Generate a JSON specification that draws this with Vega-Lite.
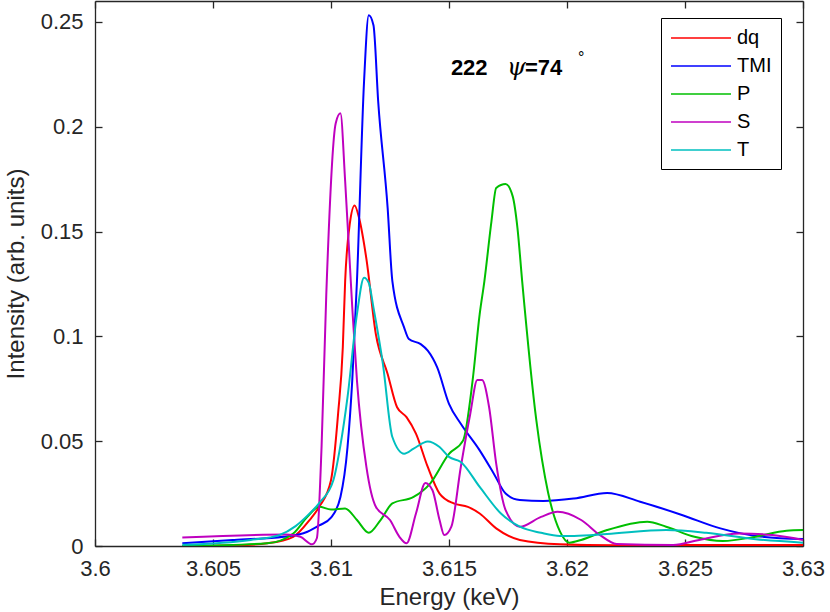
{
  "$schema": "https://vega.github.io/schema/vega-lite/v6.json",
  "width": 708,
  "height": 545,
  "autosize": {"type": "none"},
  "padding": {"left": 95, "top": 1, "right": 27, "bottom": 66},
  "background": "white",
  "config": {
    "view": {"stroke": null},
    "font": "Liberation Sans",
    "axis": {
      "grid": false,
      "domainColor": "#262626",
      "domainWidth": 1.3,
      "tickColor": "#262626",
      "tickWidth": 1.3,
      "tickSize": -7,
      "labelColor": "#262626",
      "labelFontSize": 22,
      "labelFont": "Liberation Sans",
      "titleColor": "#262626",
      "titleFontSize": 24,
      "titleFontWeight": "normal",
      "titleFont": "Liberation Sans"
    }
  },
  "datasets": {
    "spectra": [
      {"s": "dq", "e": 3.6037, "v": 0},
      {"s": "dq", "e": 3.606, "v": 0.0003},
      {"s": "dq", "e": 3.6073, "v": 0.0013},
      {"s": "dq", "e": 3.6084, "v": 0.0044},
      {"s": "dq", "e": 3.6091, "v": 0.0125},
      {"s": "dq", "e": 3.6095, "v": 0.0187},
      {"s": "dq", "e": 3.61, "v": 0.0314},
      {"s": "dq", "e": 3.6103, "v": 0.063},
      {"s": "dq", "e": 3.6105, "v": 0.0947},
      {"s": "dq", "e": 3.6106, "v": 0.1264},
      {"s": "dq", "e": 3.6108, "v": 0.154},
      {"s": "dq", "e": 3.611, "v": 0.1625},
      {"s": "dq", "e": 3.6112, "v": 0.156},
      {"s": "dq", "e": 3.6115, "v": 0.137},
      {"s": "dq", "e": 3.6119, "v": 0.1011},
      {"s": "dq", "e": 3.6124, "v": 0.0821},
      {"s": "dq", "e": 3.6128, "v": 0.0662},
      {"s": "dq", "e": 3.6132, "v": 0.0615},
      {"s": "dq", "e": 3.6136, "v": 0.0536},
      {"s": "dq", "e": 3.6141, "v": 0.0377},
      {"s": "dq", "e": 3.6146, "v": 0.025},
      {"s": "dq", "e": 3.6152, "v": 0.0203},
      {"s": "dq", "e": 3.6158, "v": 0.0187},
      {"s": "dq", "e": 3.6163, "v": 0.0155},
      {"s": "dq", "e": 3.617, "v": 0.0084},
      {"s": "dq", "e": 3.618, "v": 0.0029},
      {"s": "dq", "e": 3.6197, "v": 0.0008},
      {"s": "dq", "e": 3.622, "v": 0.0003},
      {"s": "dq", "e": 3.625, "v": 0.0005},
      {"s": "dq", "e": 3.63, "v": 0.0005},

      {"s": "TMI", "e": 3.6037, "v": 0.0013},
      {"s": "TMI", "e": 3.6059, "v": 0.0029},
      {"s": "TMI", "e": 3.608, "v": 0.0044},
      {"s": "TMI", "e": 3.609, "v": 0.0068},
      {"s": "TMI", "e": 3.6095, "v": 0.0098},
      {"s": "TMI", "e": 3.61, "v": 0.0135},
      {"s": "TMI", "e": 3.6104, "v": 0.0234},
      {"s": "TMI", "e": 3.6107, "v": 0.0472},
      {"s": "TMI", "e": 3.6109, "v": 0.0789},
      {"s": "TMI", "e": 3.6111, "v": 0.1264},
      {"s": "TMI", "e": 3.6114, "v": 0.2215},
      {"s": "TMI", "e": 3.6116, "v": 0.2532},
      {"s": "TMI", "e": 3.6118, "v": 0.2484},
      {"s": "TMI", "e": 3.612, "v": 0.212},
      {"s": "TMI", "e": 3.6124, "v": 0.1613},
      {"s": "TMI", "e": 3.6126, "v": 0.1264},
      {"s": "TMI", "e": 3.6131, "v": 0.1042},
      {"s": "TMI", "e": 3.6133, "v": 0.0987},
      {"s": "TMI", "e": 3.6138, "v": 0.0963},
      {"s": "TMI", "e": 3.6141, "v": 0.0932},
      {"s": "TMI", "e": 3.6145, "v": 0.0852},
      {"s": "TMI", "e": 3.615, "v": 0.0678},
      {"s": "TMI", "e": 3.6155, "v": 0.0583},
      {"s": "TMI", "e": 3.6163, "v": 0.0456},
      {"s": "TMI", "e": 3.6169, "v": 0.0345},
      {"s": "TMI", "e": 3.6174, "v": 0.025},
      {"s": "TMI", "e": 3.618, "v": 0.0219},
      {"s": "TMI", "e": 3.619, "v": 0.0215},
      {"s": "TMI", "e": 3.6203, "v": 0.0227},
      {"s": "TMI", "e": 3.6217, "v": 0.0253},
      {"s": "TMI", "e": 3.6231, "v": 0.0211},
      {"s": "TMI", "e": 3.6249, "v": 0.0147},
      {"s": "TMI", "e": 3.6265, "v": 0.0084},
      {"s": "TMI", "e": 3.628, "v": 0.0048},
      {"s": "TMI", "e": 3.63, "v": 0.0033},

      {"s": "P", "e": 3.6037, "v": 0},
      {"s": "P", "e": 3.6073, "v": 0.0013},
      {"s": "P", "e": 3.6084, "v": 0.006},
      {"s": "P", "e": 3.609, "v": 0.0139},
      {"s": "P", "e": 3.6095, "v": 0.0187},
      {"s": "P", "e": 3.61, "v": 0.0174},
      {"s": "P", "e": 3.6106, "v": 0.0179},
      {"s": "P", "e": 3.6111, "v": 0.0124},
      {"s": "P", "e": 3.6116, "v": 0.0063},
      {"s": "P", "e": 3.6121, "v": 0.0124},
      {"s": "P", "e": 3.6126, "v": 0.0203},
      {"s": "P", "e": 3.6135, "v": 0.0234},
      {"s": "P", "e": 3.6142, "v": 0.0298},
      {"s": "P", "e": 3.615, "v": 0.044},
      {"s": "P", "e": 3.6156, "v": 0.0504},
      {"s": "P", "e": 3.616, "v": 0.0789},
      {"s": "P", "e": 3.6163, "v": 0.1106},
      {"s": "P", "e": 3.6165, "v": 0.1264},
      {"s": "P", "e": 3.6168, "v": 0.155},
      {"s": "P", "e": 3.617, "v": 0.1708},
      {"s": "P", "e": 3.6174, "v": 0.1727},
      {"s": "P", "e": 3.6177, "v": 0.1668},
      {"s": "P", "e": 3.6179, "v": 0.1518},
      {"s": "P", "e": 3.6181, "v": 0.1264},
      {"s": "P", "e": 3.6187, "v": 0.06},
      {"s": "P", "e": 3.6192, "v": 0.0254},
      {"s": "P", "e": 3.6197, "v": 0.007},
      {"s": "P", "e": 3.6201, "v": 0.0016},
      {"s": "P", "e": 3.6206, "v": 0.0029},
      {"s": "P", "e": 3.6217, "v": 0.0076},
      {"s": "P", "e": 3.6234, "v": 0.0116},
      {"s": "P", "e": 3.6242, "v": 0.0092},
      {"s": "P", "e": 3.6254, "v": 0.0044},
      {"s": "P", "e": 3.6266, "v": 0.0024},
      {"s": "P", "e": 3.628, "v": 0.0044},
      {"s": "P", "e": 3.6293, "v": 0.0073},
      {"s": "P", "e": 3.63, "v": 0.0076},

      {"s": "S", "e": 3.6037, "v": 0.004},
      {"s": "S", "e": 3.6081, "v": 0.0055},
      {"s": "S", "e": 3.6087, "v": 0.0044},
      {"s": "S", "e": 3.6092, "v": 0.0008},
      {"s": "S", "e": 3.6094, "v": 0.0037},
      {"s": "S", "e": 3.6096, "v": 0.0472},
      {"s": "S", "e": 3.6098, "v": 0.12},
      {"s": "S", "e": 3.6102, "v": 0.2017},
      {"s": "S", "e": 3.6104, "v": 0.2064},
      {"s": "S", "e": 3.6106, "v": 0.174},
      {"s": "S", "e": 3.6109, "v": 0.114},
      {"s": "S", "e": 3.6111, "v": 0.0789},
      {"s": "S", "e": 3.6115, "v": 0.0377},
      {"s": "S", "e": 3.6119, "v": 0.0187},
      {"s": "S", "e": 3.6125, "v": 0.0124},
      {"s": "S", "e": 3.6129, "v": 0.0044},
      {"s": "S", "e": 3.6132, "v": 0.0013},
      {"s": "S", "e": 3.6136, "v": 0.0155},
      {"s": "S", "e": 3.614, "v": 0.0301},
      {"s": "S", "e": 3.6143, "v": 0.0266},
      {"s": "S", "e": 3.6146, "v": 0.0124},
      {"s": "S", "e": 3.6148, "v": 0.0052},
      {"s": "S", "e": 3.6151, "v": 0.0092},
      {"s": "S", "e": 3.6155, "v": 0.0377},
      {"s": "S", "e": 3.6159, "v": 0.063},
      {"s": "S", "e": 3.6162, "v": 0.0792},
      {"s": "S", "e": 3.6164, "v": 0.0792},
      {"s": "S", "e": 3.6167, "v": 0.0662},
      {"s": "S", "e": 3.617, "v": 0.0393},
      {"s": "S", "e": 3.6174, "v": 0.0171},
      {"s": "S", "e": 3.618, "v": 0.0092},
      {"s": "S", "e": 3.6189, "v": 0.0139},
      {"s": "S", "e": 3.6196, "v": 0.0163},
      {"s": "S", "e": 3.6206, "v": 0.0124},
      {"s": "S", "e": 3.6214, "v": 0.0052},
      {"s": "S", "e": 3.6221, "v": 0.001},
      {"s": "S", "e": 3.6245, "v": 0.0005},
      {"s": "S", "e": 3.6256, "v": 0.0029},
      {"s": "S", "e": 3.6273, "v": 0.006},
      {"s": "S", "e": 3.6287, "v": 0.0052},
      {"s": "S", "e": 3.63, "v": 0.0029},

      {"s": "T", "e": 3.6037, "v": 0.0006},
      {"s": "T", "e": 3.6066, "v": 0.0029},
      {"s": "T", "e": 3.6078, "v": 0.0052},
      {"s": "T", "e": 3.6085, "v": 0.0095},
      {"s": "T", "e": 3.609, "v": 0.0145},
      {"s": "T", "e": 3.6095, "v": 0.0205},
      {"s": "T", "e": 3.6101, "v": 0.0314},
      {"s": "T", "e": 3.6104, "v": 0.048},
      {"s": "T", "e": 3.6107, "v": 0.071},
      {"s": "T", "e": 3.6111, "v": 0.1106},
      {"s": "T", "e": 3.6114, "v": 0.128},
      {"s": "T", "e": 3.6116, "v": 0.1256},
      {"s": "T", "e": 3.6118, "v": 0.1137},
      {"s": "T", "e": 3.6122, "v": 0.0868},
      {"s": "T", "e": 3.6126, "v": 0.052},
      {"s": "T", "e": 3.6131, "v": 0.044},
      {"s": "T", "e": 3.6135, "v": 0.0464},
      {"s": "T", "e": 3.6141, "v": 0.0499},
      {"s": "T", "e": 3.6146, "v": 0.0472},
      {"s": "T", "e": 3.615, "v": 0.0425},
      {"s": "T", "e": 3.6155, "v": 0.0401},
      {"s": "T", "e": 3.6163, "v": 0.0282},
      {"s": "T", "e": 3.6172, "v": 0.0155},
      {"s": "T", "e": 3.618, "v": 0.0092},
      {"s": "T", "e": 3.6189, "v": 0.0063},
      {"s": "T", "e": 3.6197, "v": 0.0048},
      {"s": "T", "e": 3.6203, "v": 0.0048},
      {"s": "T", "e": 3.6217, "v": 0.0057},
      {"s": "T", "e": 3.6242, "v": 0.0076},
      {"s": "T", "e": 3.6259, "v": 0.0063},
      {"s": "T", "e": 3.628, "v": 0.0032},
      {"s": "T", "e": 3.63, "v": 0.0016}
    ],
    "note": [{"id": 1}]
  },
  "resolve": {"axis": {"x": "independent", "y": "independent"}},
  "layer": [
    {
      "data": {"name": "spectra"},
      "mark": {"type": "line", "strokeWidth": 2, "clip": true, "interpolate": "monotone"},
      "encoding": {
        "x": {
          "field": "e",
          "type": "quantitative",
          "scale": {"domain": [3.6, 3.63], "nice": false, "zero": false},
          "axis": {
            "orient": "bottom",
            "values": [3.6, 3.605, 3.61, 3.615, 3.62, 3.625, 3.63],
            "format": ".3~f",
            "labelPadding": 19,
            "labelFlush": false,
            "title": "Energy (keV)",
            "titlePadding": 6
          }
        },
        "y": {
          "field": "v",
          "type": "quantitative",
          "scale": {"domain": [0, 0.26], "nice": false},
          "axis": {
            "orient": "left",
            "values": [0, 0.05, 0.1, 0.15, 0.2, 0.25],
            "format": ".2~f",
            "labelPadding": 19,
            "title": "Intensity (arb. units)",
            "titlePadding": 12
          }
        },
        "color": {
          "field": "s",
          "type": "nominal",
          "sort": ["dq", "TMI", "P", "S", "T"],
          "scale": {
            "domain": ["dq", "TMI", "P", "S", "T"],
            "range": ["#ff0000", "#0000ff", "#00bf00", "#bf00bf", "#00bfbf"]
          },
          "legend": {
            "title": null,
            "orient": "none",
            "legendX": 566,
            "legendY": 17,
            "symbolType": "M-1,0H5",
            "symbolSize": 400,
            "symbolStrokeWidth": 1.5,
            "labelOffset": 45,
            "labelFontSize": 20,
            "labelColor": "black",
            "labelFont": "Liberation Sans",
            "rowPadding": 7,
            "padding": 9,
            "strokeColor": "black",
            "fillColor": "white"
          }
        }
      }
    },
    {
      "data": {"name": "spectra"},
      "mark": {"type": "point", "opacity": 0},
      "encoding": {
        "x": {
          "field": "e",
          "type": "quantitative",
          "axis": {"orient": "top", "values": [3.6, 3.605, 3.61, 3.615, 3.62, 3.625, 3.63], "labels": false, "title": null}
        },
        "y": {
          "field": "v",
          "type": "quantitative",
          "axis": {"orient": "right", "values": [0, 0.05, 0.1, 0.15, 0.2, 0.25], "labels": false, "title": null}
        }
      }
    },
    {
      "data": {"name": "note"},
      "mark": {"type": "text", "text": "222", "fontSize": 22, "fontWeight": "bold", "align": "left", "baseline": "alphabetic", "color": "black"},
      "encoding": {"x": {"datum": 3.61508, "type": "quantitative", "axis": null}, "y": {"datum": 0.2248, "type": "quantitative", "axis": null}}
    },
    {
      "data": {"name": "note"},
      "mark": {"type": "text", "text": "ψ", "fontSize": 24, "font": "DejaVu Serif", "fontStyle": "italic", "align": "left", "baseline": "alphabetic", "color": "black"},
      "encoding": {"x": {"datum": 3.61746, "type": "quantitative", "axis": null}, "y": {"datum": 0.2248, "type": "quantitative", "axis": null}}
    },
    {
      "data": {"name": "note"},
      "mark": {"type": "text", "text": "=74", "fontSize": 22, "fontWeight": "bold", "align": "left", "baseline": "alphabetic", "color": "black"},
      "encoding": {"x": {"datum": 3.61822, "type": "quantitative", "axis": null}, "y": {"datum": 0.2248, "type": "quantitative", "axis": null}}
    },
    {
      "data": {"name": "note"},
      "mark": {"type": "text", "text": "°", "fontSize": 16, "align": "left", "baseline": "alphabetic", "color": "black"},
      "encoding": {"x": {"datum": 3.62047, "type": "quantitative", "axis": null}, "y": {"datum": 0.2305, "type": "quantitative", "axis": null}}
    }
  ]
}
